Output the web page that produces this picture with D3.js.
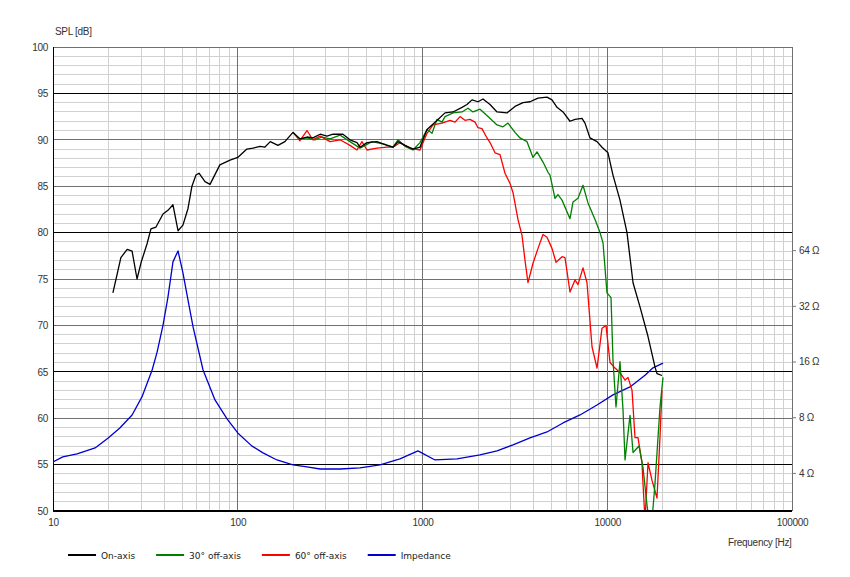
<!DOCTYPE html>
<html><head><meta charset="utf-8">
<script src="https://cdn.jsdelivr.net/npm/d3@7/dist/d3.min.js"></script>
<style>body{margin:0;background:#fff;} svg{display:block;}</style>
</head><body>
<script>
// ---------- data ----------
const onAxisFreq = [21.1,23.3,25.2,26.8,28.5,30,32.3,33.9,36.1,39.4,41.9,44.6,47.5,50.5,53.8,56.5,59.4,61.7,66.5,70.8,80,90.8,100,112,121,132,140,150,165,180,199,217,237,255,279,304,328,371,405,442,459,501,567,643,692,737,804,888,969,1058,1169,1324,1463,1636,1741,1853,1997,2126,2320,2532,2867,3167,3499,3819,4219,4719,5023,5346,5762,6286,6690,7300,7578,8065,8802,9368,10090,10740,11720,12790,13790,15040,16620,18140,18590,19780];
const onAxisDb = [73.5,77.3,78.2,78.0,75.0,76.8,78.8,80.4,80.6,82.0,82.4,83.0,80.2,80.8,82.6,85.0,86.2,86.4,85.5,85.2,87.3,87.8,88.1,89.0,89.1,89.3,89.2,89.8,89.4,89.8,90.8,90.1,90.3,90.2,90.6,90.4,90.6,90.6,90.0,89.7,89.2,89.7,89.8,89.4,89.2,89.8,89.4,89.0,89.2,91.1,91.9,92.9,93.0,93.5,93.8,94.3,94.1,94.4,93.8,93.0,92.9,93.6,94.0,94.1,94.5,94.6,94.3,93.5,93.0,92.0,92.2,92.3,91.8,90.2,89.8,89.2,88.6,86.2,83.5,80.0,74.6,72.0,68.8,65.5,64.8,64.6];

const off30Freq = [199,217,237,262,286,316,358,405,459,533,627,692,737,804,888,969,1058,1126,1198,1275,1324,1463,1636,1763,1877,2048,2262,2532,2727,2903,3167,3371,3679,3964,4167,4491,4779,4899,5215,5413,5690,6286,6526,6945,7392,7866,8585,9138,9485,9969,10480,10740,11150,11720,12170,12480,13280,13790,14860,15610,16420,16830,17470,18140,19300,20040];
const off30Db = [90.8,90.1,90.2,90.0,90.3,90.1,90.5,89.8,89.1,89.8,89.5,89.2,90.0,89.3,88.9,89.7,91.1,90.7,92.2,91.9,92.5,92.9,93.0,93.4,93.0,93.3,92.5,91.6,91.4,91.8,90.8,90.2,89.8,88.1,88.7,87.6,86.5,86.2,83.7,84.1,83.5,81.5,83.3,83.7,85.1,83.2,81.4,80.0,78.9,73.5,73.0,66.3,61.2,66.1,60.9,55.5,60.3,56.3,57.0,54.7,50.6,49.0,49.0,53.0,61.2,64.4];

const off60Freq = [199,217,237,255,279,316,358,405,442,470,501,567,643,692,755,856,969,1058,1140,1275,1409,1500,1596,1698,1807,1924,1997,2099,2234,2320,2469,2627,2796,2976,3090,3288,3456,3588,3724,3964,4219,4491,4719,5023,5281,5690,5906,6286,6690,6945,7392,7770,8270,8802,9368,9845,10350,11020,11720,12480,12950,13620,14130,14670,15420,15610,16010,16620,17470,18590,19300,19780];
const off60Db = [90.8,89.9,91.0,90.0,90.4,89.8,90.0,89.4,88.9,89.8,88.9,89.1,89.2,89.2,89.7,89.1,88.9,90.7,91.6,91.8,92.1,91.9,92.5,92.1,92.2,91.9,91.3,91.2,90.2,89.7,88.6,88.4,86.4,85.3,84.3,81.4,79.7,77.0,74.6,76.7,78.3,79.8,79.5,78.3,76.8,77.4,77.3,73.6,74.9,74.4,76.2,74.6,67.7,65.4,69.7,70.0,66.0,65.4,64.9,64.1,64.4,63.0,57.9,57.9,55.2,53.0,49.0,55.2,53.3,51.4,58.0,63.0];

const impFreq = [10,11.3,13.5,16.9,19.9,23.0,26.8,30.3,34.4,36.6,39.4,41.9,44.6,47.5,50.5,53.8,57.3,64.9,75.3,87.5,100,119,137,163,199,237,279,358,459,589,755,945,1169,1537,2048,2532,3090,3819,4719,5762,7121,8802,10740,13280,16010,17690,20040];
const impOhm = [4.59,4.88,5.07,5.46,6.18,7.00,8.23,10.3,14.4,18.0,25.2,35.7,55.3,63.4,48.2,34.4,24.6,14.4,9.92,7.83,6.58,5.60,5.13,4.70,4.42,4.31,4.20,4.20,4.26,4.42,4.76,5.26,4.70,4.76,5.00,5.26,5.67,6.18,6.66,7.45,8.23,9.32,10.56,11.66,13.5,14.8,15.7];

const dbTicks = [50,55,60,65,70,75,80,85,90,95,100];
const boldDb = [55,65,80,95];
const freqTicks = [10,100,1000,10000,100000];
const ohmTicks = [4,8,16,32,64];
const legendLabels = ["On-axis","30\u00b0 off-axis","60\u00b0 off-axis","Impedance"];
const colors = ["#000000","#008000","#ff0000","#0000d0"];

// ---------- layout ----------
const W = 850, H = 577;
const m = {left:53, top:47, right:58, bottom:66};
const w = W - m.left - m.right, h = H - m.top - m.bottom;

const svg = d3.select("body").append("svg").attr("width",W).attr("height",H)
  .style("font-family","'Liberation Sans', Arial, sans-serif");
const g = svg.append("g").attr("transform",`translate(${m.left},${m.top})`);

const x = d3.scaleLog().domain([10,100000]).range([0,w]);
const y = d3.scaleLinear().domain([50,100]).range([h,0]);
const z = d3.scaleLog().base(2).domain([2.49,802]).range([h,0]);

// grid
const minorF = [];
[10,100,1000,10000].forEach(d=>{for(let k=2;k<=9;k++) minorF.push(d*k);});
g.selectAll(".vminor").data(minorF).join("line")
  .attr("x1",d=>x(d)).attr("x2",d=>x(d)).attr("y1",0).attr("y2",h)
  .attr("stroke","#d0d0d0").attr("stroke-width",1).attr("shape-rendering","crispEdges");
g.selectAll(".hminor").data(d3.range(50,101,1)).join("line")
  .attr("x1",0).attr("x2",w).attr("y1",d=>y(d)).attr("y2",d=>y(d))
  .attr("stroke","#d0d0d0").attr("stroke-width",1).attr("shape-rendering","crispEdges");
g.selectAll(".hmajor").data(dbTicks).join("line")
  .attr("x1",0).attr("x2",w).attr("y1",d=>y(d)).attr("y2",d=>y(d))
  .attr("stroke",d=>boldDb.includes(d)?"#000":"#707070").attr("stroke-width",d=>boldDb.includes(d)?1.3:1)
  .attr("shape-rendering","crispEdges");
g.selectAll(".vmajor").data(freqTicks).join("line")
  .attr("x1",d=>x(d)).attr("x2",d=>x(d)).attr("y1",0).attr("y2",h)
  .attr("stroke","#707070").attr("stroke-width",1).attr("shape-rendering","crispEdges");
// frame
g.append("line").attr("x1",0).attr("x2",0).attr("y1",0).attr("y2",h).attr("stroke","#000").attr("shape-rendering","crispEdges");
g.append("line").attr("x1",0).attr("x2",w).attr("y1",h).attr("y2",h).attr("stroke","#000").attr("stroke-width",1.3).attr("shape-rendering","crispEdges");

// axes
const textCol = "#333";
const ax = g.append("g").call(d3.axisLeft(y).tickValues(dbTicks).tickSize(0).tickPadding(5));
const bx = g.append("g").attr("transform",`translate(0,${h})`)
  .call(d3.axisBottom(x).tickValues(freqTicks).tickFormat(d3.format("d")).tickSize(0).tickPadding(8));
const rx = g.append("g").attr("transform",`translate(${w},0)`)
  .call(d3.axisRight(z).tickValues(ohmTicks).tickFormat(d=>d+" \u03a9").tickSize(4).tickPadding(3));
[ax,bx,rx].forEach(a=>{
  a.select(".domain").remove();
  a.selectAll("text").attr("fill",textCol).style("font-size","10px").style("letter-spacing","-0.3px");
  a.selectAll(".tick line").attr("stroke","#777");
});

svg.append("text").attr("x",55).attr("y",35).text("SPL [dB]")
  .attr("fill",textCol).style("font-size","10px").style("letter-spacing","-0.3px");
svg.append("text").attr("x",728).attr("y",546).text("Frequency [Hz]")
  .attr("fill",textCol).style("font-size","10px").style("letter-spacing","-0.3px");

// curves
g.append("clipPath").attr("id","clip").append("rect").attr("x",0).attr("y",-2).attr("width",w).attr("height",h+1);
const plot = g.append("g").attr("clip-path","url(#clip)");
const dbLine = d3.line().x(d=>x(d[0])).y(d=>y(d[1]));
const zLine = d3.line().x(d=>x(d[0])).y(d=>z(d[1]));
const series = [
  {f:impFreq, v:impOhm, c:colors[3], imp:true},
  {f:off60Freq, v:off60Db, c:colors[2]},
  {f:off30Freq, v:off30Db, c:colors[1]},
  {f:onAxisFreq, v:onAxisDb, c:colors[0]}
];
series.forEach(s=>{
  const pts = s.f.map((f,i)=>[f,s.v[i]]);
  plot.append("path").datum(pts).attr("d", s.imp?zLine:dbLine)
    .attr("fill","none").attr("stroke",s.c).attr("stroke-width",1.3).attr("stroke-linejoin","round");
});

// legend
const lg = svg.append("g").attr("transform","translate(68,555)")
  .style("font-family","'DejaVu Sans', Verdana, sans-serif").style("font-size","9px");
let cx = 0;
legendLabels.forEach((lab,i)=>{
  lg.append("line").attr("x1",cx).attr("x2",cx+28).attr("y1",0).attr("y2",0)
    .attr("stroke",colors[i]).attr("stroke-width",2);
  const t = lg.append("text").attr("x",cx+33).attr("y",3.5).text(lab).attr("fill","#222");
  cx += 33 + t.node().getComputedTextLength() + 21;
});
</script>
</body></html>
